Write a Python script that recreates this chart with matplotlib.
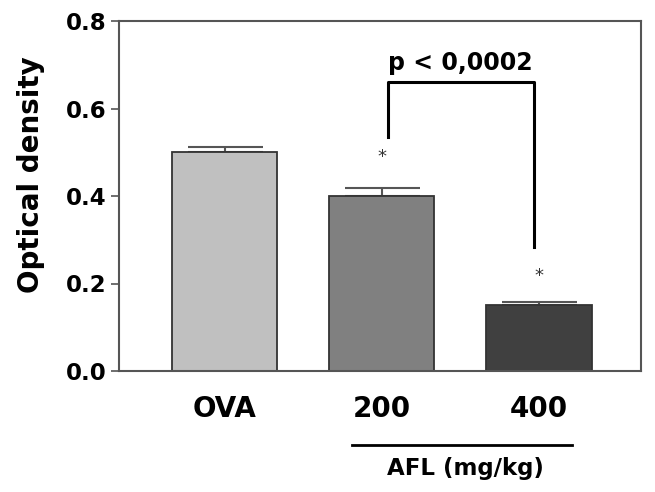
import matplotlib.pyplot as plt

plt.rcParams['font.family'] = ['DejaVu Sans']

groups = ['OVA', '200', '400']
means = [0.50, 0.40, 0.151]
errors = [0.013, 0.018, 0.006]
colors = ['#c0c0c0', '#808080', '#404040']
star_y = [None, 0.49, 0.217]
p_text = 'p < 0,0002'

fig = plt.figure(figsize=(6.55, 4.92), dpi=100)
ax = fig.add_axes([119 / 655, 1 - 371 / 492, 522 / 655, 350 / 492])

x = list(range(len(groups)))
ax.bar(x, means, width=0.67, color=colors, edgecolor='#333333', linewidth=1.3, zorder=2)
ax.errorbar(x, means, yerr=[[0] * 3, errors], fmt='none', ecolor='#555555',
            elinewidth=1.5, capsize=27, capthick=1.5, zorder=1)

for xi, sy in zip(x, star_y):
    if sy is not None:
        ax.text(xi, sy, '*', ha='center', va='center', fontsize=13, color='#333333')

# significance bracket between 200 and 400
ax.plot([1.04, 1.04, 1.97, 1.97], [0.535, 0.661, 0.661, 0.283], color='black', lw=2.2, zorder=3)
ax.text(1.5, 0.688, p_text, ha='center', va='baseline', fontsize=17, fontweight='bold')

ax.set_xlim(-0.672, 2.65)
ax.set_ylim(0, 0.8)
ax.set_yticks([0.0, 0.2, 0.4, 0.6, 0.8])
ax.set_yticklabels(['0.0', '0.2', '0.4', '0.6', '0.8'], fontsize=16.5, fontweight='bold')
ax.set_xticks(x)
ax.set_xticklabels(groups, fontsize=20, fontweight='bold')
ax.tick_params(axis='x', length=0, pad=17)
ax.tick_params(axis='y', length=6, width=1.2, color='#555555', pad=3)
for s in ax.spines.values():
    s.set_color('#555555')
    s.set_linewidth(1.5)
ax.set_ylabel('Optical density', fontsize=20, fontweight='bold')
ax.yaxis.set_label_coords(-0.142, 0.56)

# group label under AFL doses
ax.plot([0.81, 2.21], [-0.169, -0.169], color='black', lw=2, clip_on=False)
ax.text(1.53, -0.224, 'AFL (mg/kg)', ha='center', va='center', fontsize=16.5, fontweight='bold')

fig.savefig('out.png', dpi=100)
